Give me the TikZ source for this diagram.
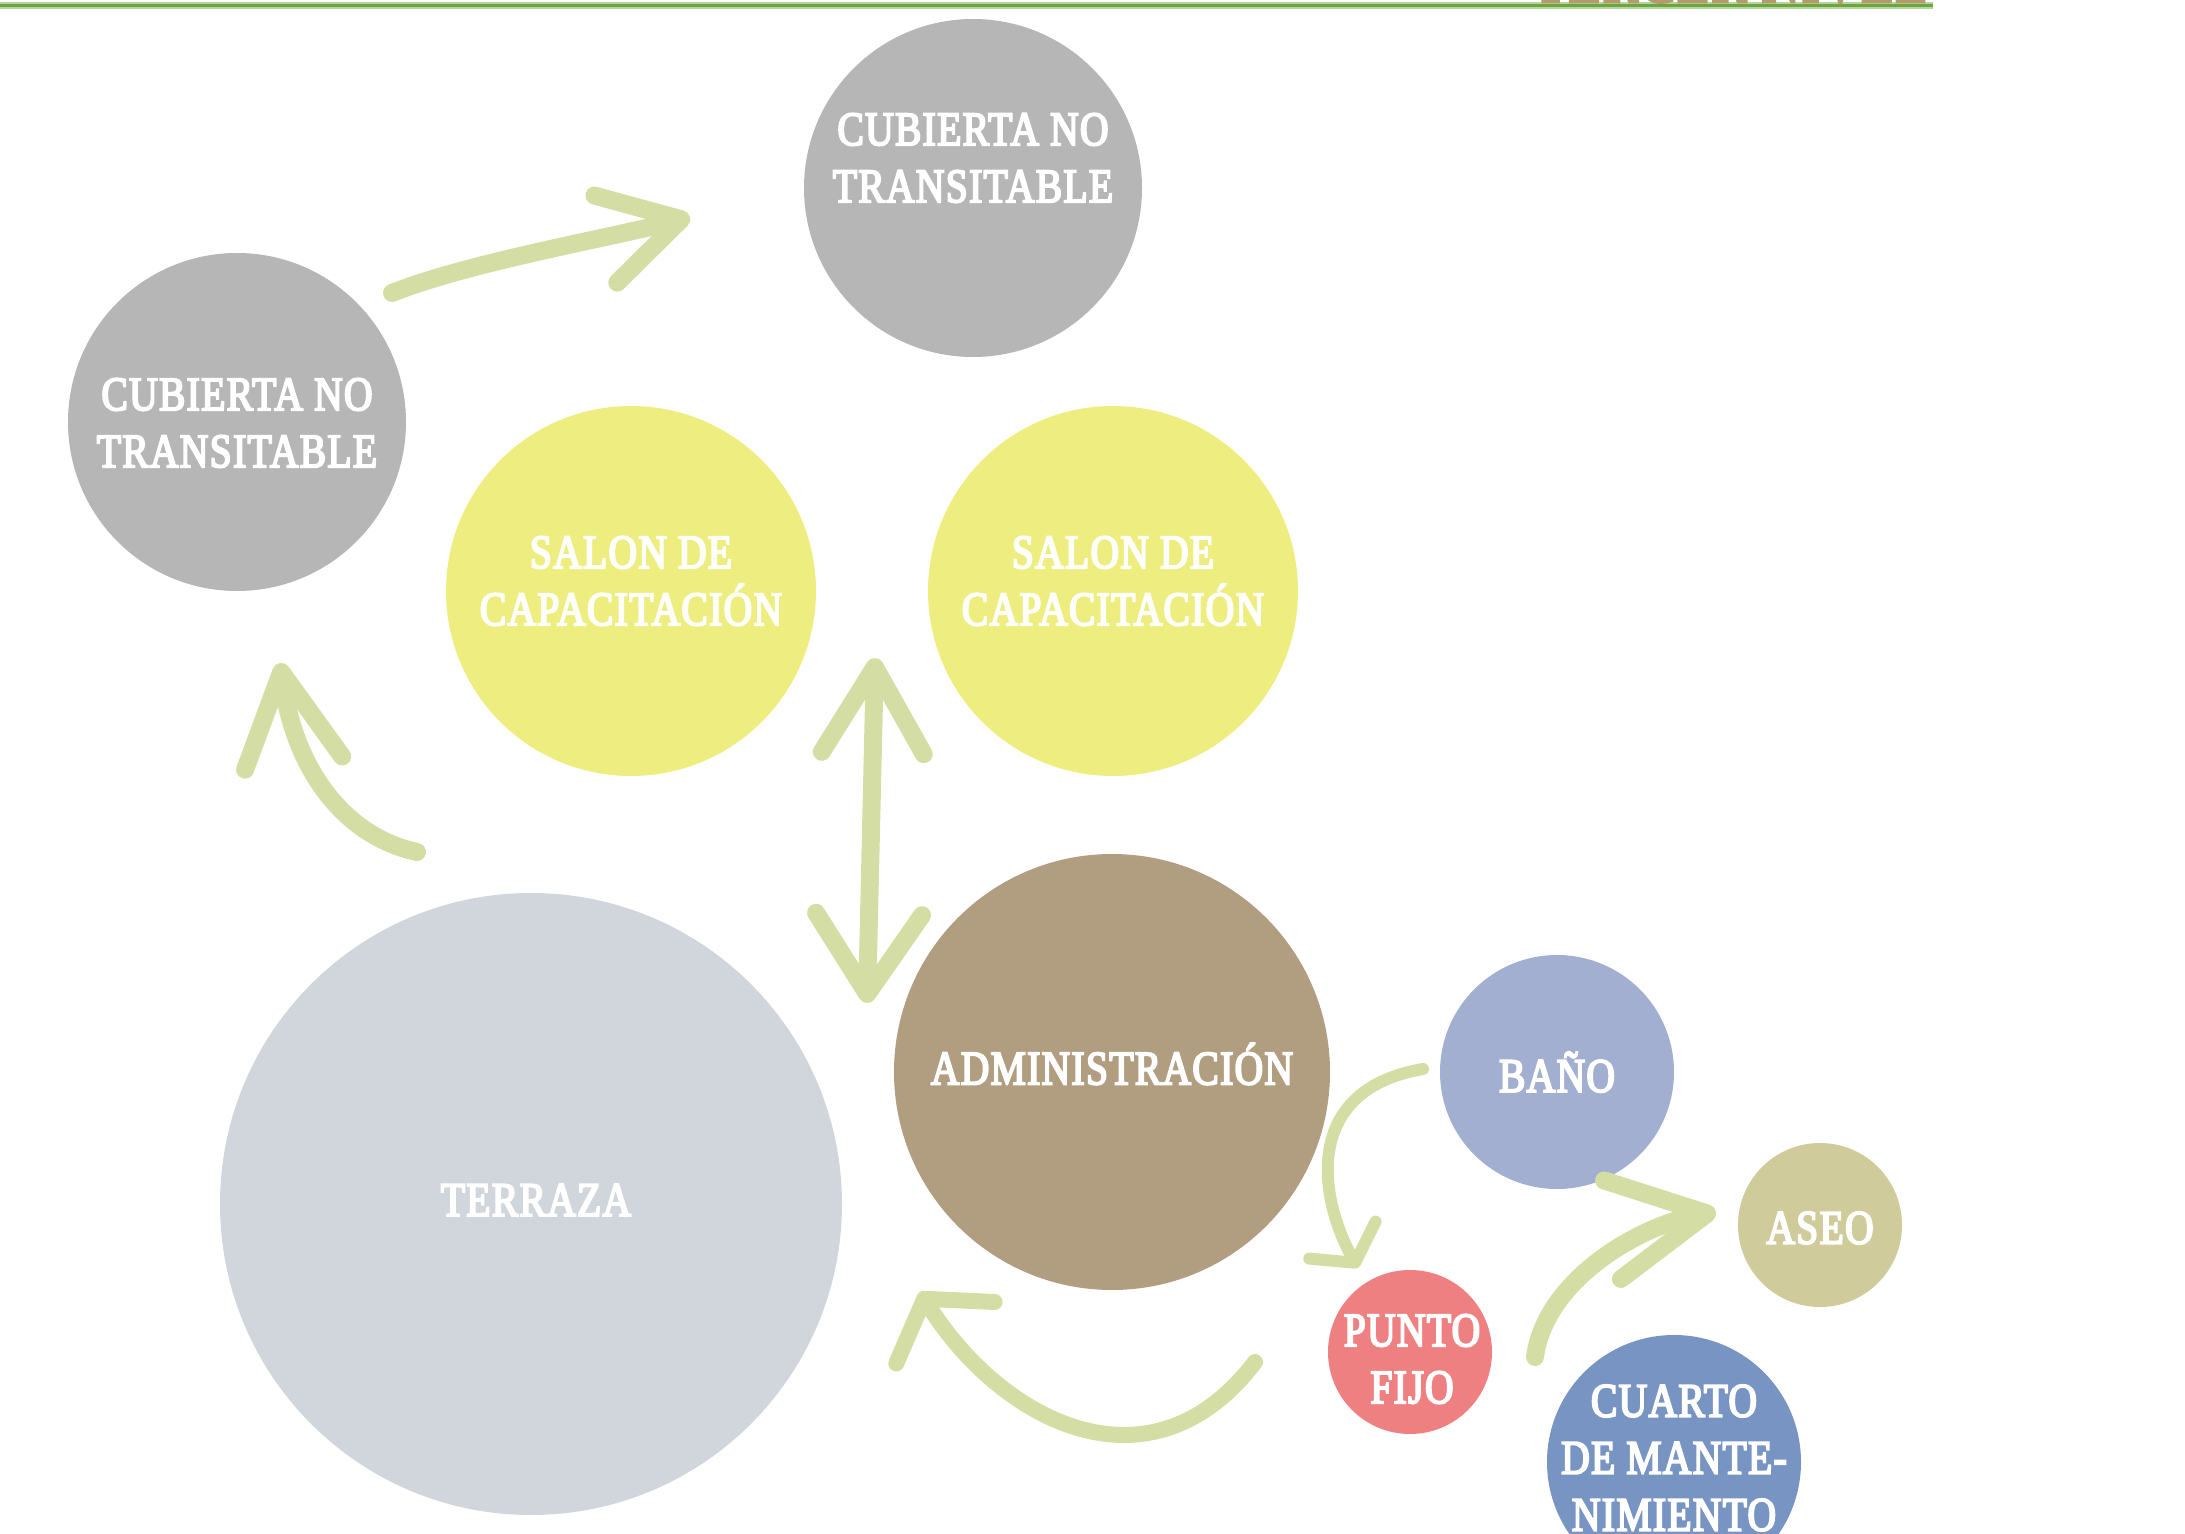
\documentclass[tikz,border=0pt]{standalone}
\usepackage{fontspec}
\usepackage{xcolor}
\usepackage{tikz}
\usetikzlibrary{arrows.meta}
\newfontfamily\labfont[FakeStretch=0.82, FakeBold=4, LetterSpace=3]{Liberation Serif}
\definecolor{grisc}{HTML}{B6B6B6}
\definecolor{amarillo}{HTML}{EEEE80}
\definecolor{cafe}{HTML}{B19D7F}
\definecolor{terra}{HTML}{D1D6DD}
\definecolor{lila}{HTML}{A3AFD1}
\definecolor{oliva}{HTML}{CFCB9A}
\definecolor{coral}{HTML}{EF8082}
\definecolor{azul}{HTML}{7894C3}
\definecolor{brote}{HTML}{D4DEA4}
\definecolor{linea}{HTML}{6CA640}
\definecolor{lineaclara}{HTML}{B5D69B}
\definecolor{titulo}{HTML}{B39B6D}
\tikzstyle{room}=[%
      circle, draw=none, inner sep=0pt
]
\tikzstyle{lab}=[%
      text=white, align=center, inner sep=0pt, font=\labfont\fontsize{24}{28.5}\selectfont
]
\tikzstyle{brush}=[%
      draw=brote, line width=9pt, line cap=round, line join=round
]

\begin{document}
\begin{tikzpicture}[x=0.5pt, y=-0.5pt]
    \useasboundingbox (0,0) rectangle (2185,1534);

    \draw[lineaclara, line width=3.5pt] (0,5.5) -- (1933,5.5);
    \draw[linea, line width=1.8pt] (0,5.5) -- (1933,5.5);
    \node[anchor=base west, inner sep=0pt, text=titulo, font=\labfont\fontsize{32.2}{34}\selectfont] (nivel) at (1534,2) {TERCER NIVEL};

    \node[room, fill=grisc, minimum size=169pt]    (cubT)   at (973,188)   {};
    \node[room, fill=grisc, minimum size=169pt]    (cubL)   at (237,422)   {};
    \node[room, fill=amarillo, minimum size=185pt] (salL)   at (631,591)   {};
    \node[room, fill=amarillo, minimum size=185pt] (salR)   at (1113,591)  {};
    \node[room, fill=cafe, minimum size=218pt]     (admin)  at (1112,1072) {};
    \node[room, fill=terra, minimum size=311pt]    (terr)   at (531,1204)  {};
    \node[room, fill=lila, minimum size=117pt]     (bano)   at (1557,1072) {};
    \node[room, fill=oliva, minimum size=82pt]     (aseo)   at (1820,1225) {};
    \node[room, fill=coral, minimum size=82pt]     (punto)  at (1410,1352) {};
    \node[room, fill=azul, minimum size=127pt]     (cuarto) at (1674,1462) {};

    \node[lab] (cubTtx)   at (973,158)   {CUBIERTA NO\\TRANSITABLE};
    \node[lab] (cubLtx)   at (237,423)   {CUBIERTA NO\\TRANSITABLE};
    \node[lab] (salLtx)   at (631,581)   {SALON DE\\CAPACITACIÓN};
    \node[lab] (salRtx)   at (1113,581)  {SALON DE\\CAPACITACIÓN};
    \node[lab] (admintx)  at (1112,1064) {ADMINISTRACIÓN};
    \node[lab] (terrtx)   at (536,1200)  {TERRAZA};
    \node[lab] (banotx)   at (1557,1072) {BAÑO};
    \node[lab] (aseotx)   at (1820,1228) {ASEO};
    \node[lab] (puntotx)  at (1412,1359) {PUNTO\\FIJO};
    \node[lab] (cuartotx) at (1674,1458) {CUARTO\\DE MANTE-\\NIMIENTO};

    \coordinate (t1) at (392,293);   \coordinate (h1) at (690,217);
    \coordinate (t2) at (417,852);   \coordinate (h2) at (280,663);
    \coordinate (h3a) at (867,1003); \coordinate (h3b) at (875,658);
    \coordinate (t4) at (1255,1362); \coordinate (h4) at (920,1292);
    \coordinate (t5) at (1423,1069); \coordinate (h5) at (1358,1268);
    \coordinate (t6) at (1535,1357); \coordinate (h6) at (1716,1212);

    \draw[brush, -{Straight Barb[length=39pt,width=45pt,round]}]
          (t1) .. controls (470,262) and (610,238) .. (h1);
    \draw[brush, -{Straight Barb[length=46pt,width=49pt,round]}]
          (t2) .. controls (347,837) and (295,773) .. (h2);
    \draw[brush, {Straight Barb[length=40pt,width=53pt,round]}-{Straight Barb[length=43pt,width=51pt,round]}]
          (h3a) -- (h3b);
    \draw[brush, line width=8pt, -{Straight Barb[length=20pt,width=58pt,round]}]
          (t4) .. controls (1150,1500) and (1000,1420) .. (h4);
    \draw[brush, line width=6pt, -{Straight Barb[length=13pt,width=38pt,round]}]
          (t5) .. controls (1300,1090) and (1320,1200) .. (h5);
    \draw[brush, -{Straight Barb[length=48pt,width=50pt,round]}]
          (t6) .. controls (1545,1280) and (1640,1225) .. (h6);
\end{tikzpicture}
\end{document}
